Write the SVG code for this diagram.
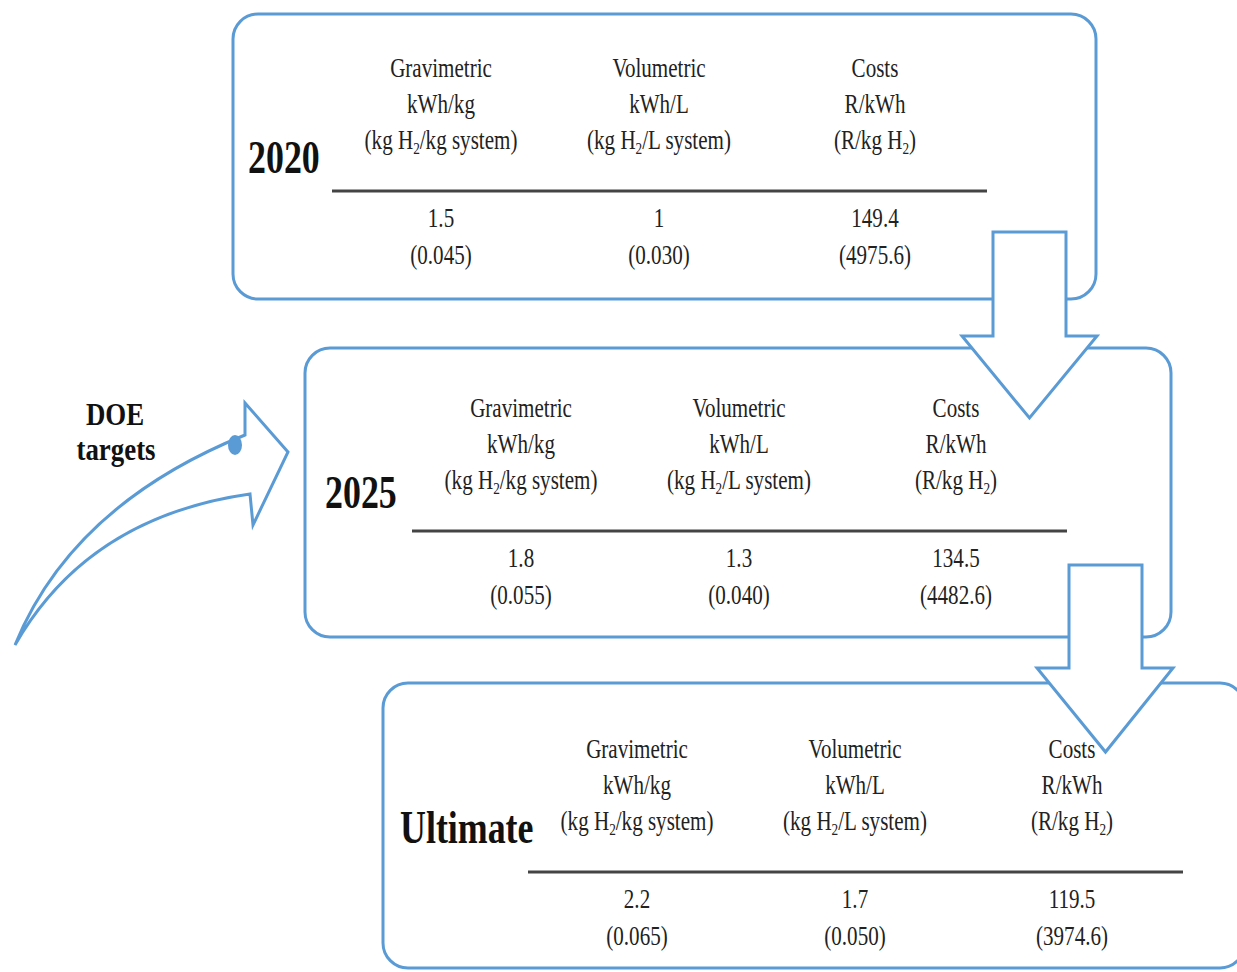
<svg xmlns="http://www.w3.org/2000/svg" width="1237" height="972" viewBox="0 0 1237 972">
<style>
.box{fill:#fff;stroke:#5b9bd5;stroke-width:3}
.rule{stroke:#444;stroke-width:3}
.t{font-family:"Liberation Serif","Times New Roman",serif;font-size:27px;fill:#222;text-anchor:middle}
.yr{font-family:"Liberation Serif","Times New Roman",serif;font-size:46px;font-weight:bold;fill:#111}
.doe{font-family:"Liberation Serif","Times New Roman",serif;font-size:32px;font-weight:bold;fill:#111;text-anchor:middle}
.arr{fill:#fff;stroke:#5b9bd5;stroke-width:3;stroke-linejoin:miter}
.sub{font-size:17px}
</style>
<rect width="1237" height="972" fill="#fff"/>

<g id="box2020">
<rect class="box" x="233" y="14" width="863" height="285" rx="25"/>
<text class="yr" transform="translate(248 173) scale(.78 1)">2020</text>
<text class="t" transform="translate(441 77) scale(.78 1)">Gravimetric</text>
<text class="t" transform="translate(441 113) scale(.78 1)">kWh/kg</text>
<text class="t" transform="translate(441 149) scale(.78 1)">(kg H<tspan class="sub" dy="5">2</tspan><tspan dy="-5">/kg system)</tspan></text>
<text class="t" transform="translate(659 77) scale(.78 1)">Volumetric</text>
<text class="t" transform="translate(659 113) scale(.78 1)">kWh/L</text>
<text class="t" transform="translate(659 149) scale(.78 1)">(kg H<tspan class="sub" dy="5">2</tspan><tspan dy="-5">/L system)</tspan></text>
<text class="t" transform="translate(875 77) scale(.78 1)">Costs</text>
<text class="t" transform="translate(875 113) scale(.78 1)">R/kWh</text>
<text class="t" transform="translate(875 149) scale(.78 1)">(R/kg H<tspan class="sub" dy="5">2</tspan><tspan dy="-5">)</tspan></text>
<line class="rule" x1="332" y1="191" x2="987" y2="191"/>
<text class="t" transform="translate(441 227) scale(.78 1)">1.5</text>
<text class="t" transform="translate(441 264) scale(.78 1)">(0.045)</text>
<text class="t" transform="translate(659 227) scale(.78 1)">1</text>
<text class="t" transform="translate(659 264) scale(.78 1)">(0.030)</text>
<text class="t" transform="translate(875 227) scale(.78 1)">149.4</text>
<text class="t" transform="translate(875 264) scale(.78 1)">(4975.6)</text>
</g>

<g id="box2025">
<rect class="box" x="305" y="348" width="866" height="289" rx="25"/>
<text class="yr" transform="translate(325 508) scale(.78 1)">2025</text>
<text class="t" transform="translate(521 417) scale(.78 1)">Gravimetric</text>
<text class="t" transform="translate(521 453) scale(.78 1)">kWh/kg</text>
<text class="t" transform="translate(521 489) scale(.78 1)">(kg H<tspan class="sub" dy="5">2</tspan><tspan dy="-5">/kg system)</tspan></text>
<text class="t" transform="translate(739 417) scale(.78 1)">Volumetric</text>
<text class="t" transform="translate(739 453) scale(.78 1)">kWh/L</text>
<text class="t" transform="translate(739 489) scale(.78 1)">(kg H<tspan class="sub" dy="5">2</tspan><tspan dy="-5">/L system)</tspan></text>
<text class="t" transform="translate(956 417) scale(.78 1)">Costs</text>
<text class="t" transform="translate(956 453) scale(.78 1)">R/kWh</text>
<text class="t" transform="translate(956 489) scale(.78 1)">(R/kg H<tspan class="sub" dy="5">2</tspan><tspan dy="-5">)</tspan></text>
<line class="rule" x1="412" y1="531" x2="1067" y2="531"/>
<text class="t" transform="translate(521 567) scale(.78 1)">1.8</text>
<text class="t" transform="translate(521 604) scale(.78 1)">(0.055)</text>
<text class="t" transform="translate(739 567) scale(.78 1)">1.3</text>
<text class="t" transform="translate(739 604) scale(.78 1)">(0.040)</text>
<text class="t" transform="translate(956 567) scale(.78 1)">134.5</text>
<text class="t" transform="translate(956 604) scale(.78 1)">(4482.6)</text>
</g>

<g id="boxUltimate">
<rect class="box" x="383" y="683" width="862" height="285" rx="25"/>
<text class="yr" transform="translate(400 843) scale(.78 1)">Ultimate</text>
<text class="t" transform="translate(637 758) scale(.78 1)">Gravimetric</text>
<text class="t" transform="translate(637 794) scale(.78 1)">kWh/kg</text>
<text class="t" transform="translate(637 830) scale(.78 1)">(kg H<tspan class="sub" dy="5">2</tspan><tspan dy="-5">/kg system)</tspan></text>
<text class="t" transform="translate(855 758) scale(.78 1)">Volumetric</text>
<text class="t" transform="translate(855 794) scale(.78 1)">kWh/L</text>
<text class="t" transform="translate(855 830) scale(.78 1)">(kg H<tspan class="sub" dy="5">2</tspan><tspan dy="-5">/L system)</tspan></text>
<line class="rule" x1="528" y1="872" x2="1183" y2="872"/>
<text class="t" transform="translate(637 908) scale(.78 1)">2.2</text>
<text class="t" transform="translate(637 945) scale(.78 1)">(0.065)</text>
<text class="t" transform="translate(855 908) scale(.78 1)">1.7</text>
<text class="t" transform="translate(855 945) scale(.78 1)">(0.050)</text>
<text class="t" transform="translate(1072 908) scale(.78 1)">119.5</text>
<text class="t" transform="translate(1072 945) scale(.78 1)">(3974.6)</text>
</g>

<g id="connectors">
<polygon class="arr" points="993,232 1066,232 1066,336 1097,336 1029.5,418 962,336 993,336"/>
<polygon class="arr" points="1069,565 1142,565 1142,668 1173,668 1105.5,752 1037,668 1069,668"/>
</g>

<g id="boxUltimateCosts">
<text class="t" transform="translate(1072 758) scale(.78 1)">Costs</text>
<text class="t" transform="translate(1072 794) scale(.78 1)">R/kWh</text>
<text class="t" transform="translate(1072 830) scale(.78 1)">(R/kg H<tspan class="sub" dy="5">2</tspan><tspan dy="-5">)</tspan></text>
</g>

<g id="doe">
<path class="arr" d="M15 645 Q72 505 245 435 L245 403 L288 452 L253 525 L250 494 Q88 517 15 645 Z"/>
<ellipse cx="235" cy="445" rx="7" ry="10" fill="#5b9bd5"/>
<text class="doe" transform="translate(115 425) scale(.84 1)">DOE</text>
<text class="doe" transform="translate(116 460) scale(.84 1)">targets</text>
</g>
</svg>
